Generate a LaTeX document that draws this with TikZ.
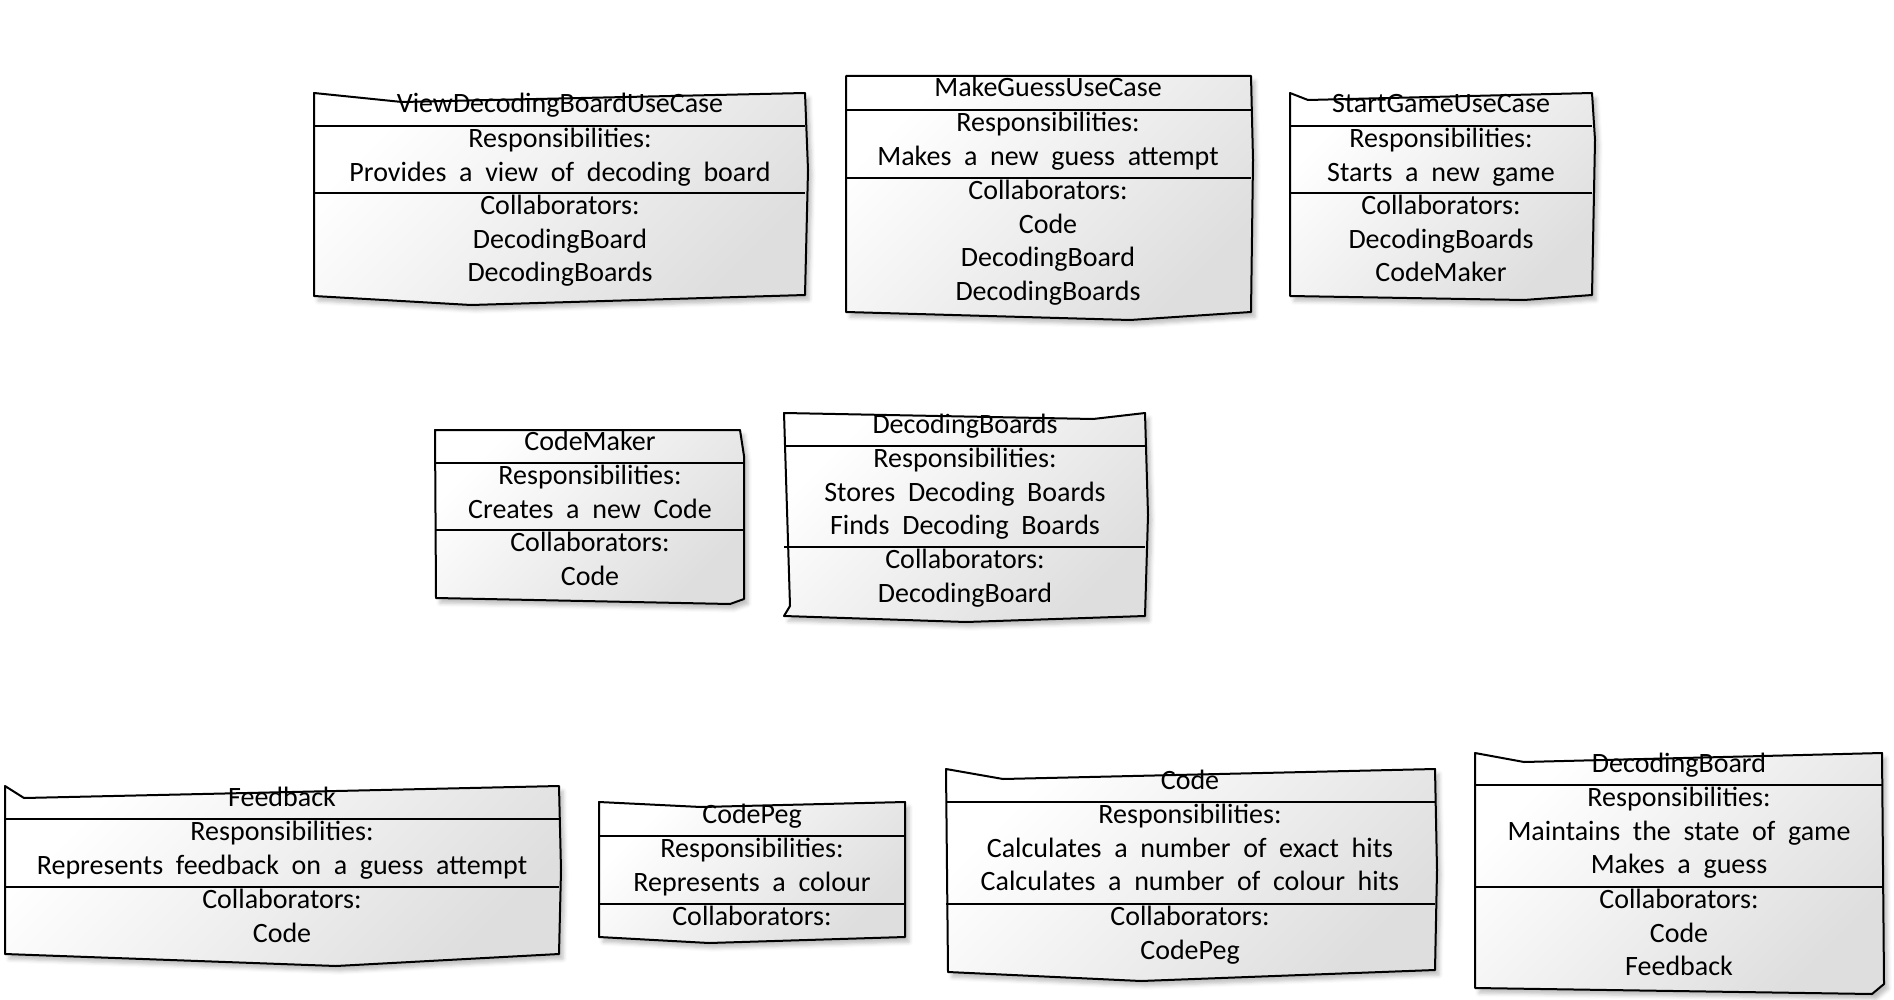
\documentclass[tikz,border=0pt]{standalone}
\usepackage{fontspec}
\setmainfont[WordSpace=2]{Carlito}
\usetikzlibrary{shadows.blur}

\tikzset{
  card/.style={draw=black, line width=1pt, line join=round,
    top color=white, bottom color=black!13, shading angle=45,
    blur shadow={shadow xshift=2pt, shadow yshift=-2.5pt, shadow opacity=25}},
  rule/.style={line width=1pt},
  cardtitle/.style={anchor=base, inner sep=0pt},
  cardsect/.style={anchor=north, align=center, inner sep=0pt},
}

\begin{document}
\begin{tikzpicture}[x=0.5pt, y=-0.5pt, font=\fontsize{14}{16.75}\selectfont]
\useasboundingbox (0,0) rectangle (1894,1000);

% ViewDecodingBoardUseCase
\path[card] (314,93) -- (402,102) -- (805,93) -- (808,170) -- (805,295) -- (471,305) -- (314,296) -- cycle;
\draw[rule] (314,126) -- (805,126) (314,193) -- (805,193);
\node[cardtitle] (view) at (560,113) {ViewDecodingBoardUseCase};
\node[cardsect] (view-r) at (560,128) {Responsibilities:\\Provides a view of decoding board};
\node[cardsect] (view-c) at (560,195) {Collaborators:\\DecodingBoard\\DecodingBoards};

% MakeGuessUseCase
\path[card] (846,76) -- (1251,76) -- (1253,160) -- (1251,312) -- (1130,320) -- (846,312) -- cycle;
\draw[rule] (846,110) -- (1251,110) (846,178) -- (1251,178);
\node[cardtitle] (guess) at (1048,97) {MakeGuessUseCase};
\node[cardsect] (guess-r) at (1048,112) {Responsibilities:\\Makes a new guess attempt};
\node[cardsect] (guess-c) at (1048,180) {Collaborators:\\Code\\DecodingBoard\\DecodingBoards};

% StartGameUseCase
\path[card] (1290,93) -- (1308,100) -- (1592,93) -- (1595,140) -- (1592,295) -- (1524,300) -- (1290,296) -- cycle;
\draw[rule] (1290,126) -- (1592,126) (1290,193) -- (1592,193);
\node[cardtitle] (start) at (1441,113) {StartGameUseCase};
\node[cardsect] (start-r) at (1441,128) {Responsibilities:\\Starts a new game};
\node[cardsect] (start-c) at (1441,195) {Collaborators:\\DecodingBoards\\CodeMaker};

% CodeMaker
\path[card] (435,430) -- (740,430) -- (744,456) -- (744,599) -- (730,604) -- (436,598) -- cycle;
\draw[rule] (435,463) -- (744,463) (435,530) -- (744,530);
\node[cardtitle] (maker) at (590,450) {CodeMaker};
\node[cardsect] (maker-r) at (590,465) {Responsibilities:\\Creates a new Code};
\node[cardsect] (maker-c) at (590,532) {Collaborators:\\Code};

% DecodingBoards
\path[card] (784,413) -- (1093,419) -- (1145,413) -- (1148,515) -- (1145,616) -- (966,622) -- (784,616) -- (790,606) -- cycle;
\draw[rule] (784,446) -- (1145,446) (784,547) -- (1145,547);
\node[cardtitle] (boards) at (965,433) {DecodingBoards};
\node[cardsect] (boards-r) at (965,448) {Responsibilities:\\Stores Decoding Boards\\Finds Decoding Boards};
\node[cardsect] (boards-c) at (965,549) {Collaborators:\\DecodingBoard};

% Feedback
\path[card] (5,786) -- (24,798) -- (559,786) -- (561,870) -- (559,954) -- (336,966) -- (5,954) -- cycle;
\draw[rule] (5,819) -- (559,819) (5,887) -- (559,887);
\node[cardtitle] (feedback) at (282,806) {Feedback};
\node[cardsect] (feedback-r) at (282,821) {Responsibilities:\\Represents feedback on a guess attempt};
\node[cardsect] (feedback-c) at (282,889) {Collaborators:\\Code};

% CodePeg
\path[card] (599,802) -- (701,807) -- (905,802) -- (905,937) -- (709,943) -- (599,937) -- cycle;
\draw[rule] (599,836) -- (905,836) (599,904) -- (905,904);
\node[cardtitle] (peg) at (752,823) {CodePeg};
\node[cardsect] (peg-r) at (752,838) {Responsibilities:\\Represents a colour};
\node[cardsect] (peg-c) at (752,906) {Collaborators:};

% Code
\path[card] (946,769) -- (1003,779) -- (1435,769) -- (1437,870) -- (1435,970) -- (1141,981) -- (948,972) -- cycle;
\draw[rule] (946,802) -- (1435,802) (946,904) -- (1435,904);
\node[cardtitle] (code) at (1190,789) {Code};
\node[cardsect] (code-r) at (1190,804) {Responsibilities:\\Calculates a number of exact hits\\Calculates a number of colour hits};
\node[cardsect] (code-c) at (1190,906) {Collaborators:\\CodePeg};

% DecodingBoard
\path[card] (1475,753) -- (1524,762) -- (1882,753) -- (1884,984) -- (1872,994) -- (1475,988) -- cycle;
\draw[rule] (1475,785) -- (1883,785) (1475,887) -- (1883,887);
\node[cardtitle] (board) at (1679,772) {DecodingBoard};
\node[cardsect] (board-r) at (1679,787) {Responsibilities:\\Maintains the state of game\\Makes a guess};
\node[cardsect] (board-c) at (1679,889) {Collaborators:\\Code\\Feedback};
\end{tikzpicture}
\end{document}
